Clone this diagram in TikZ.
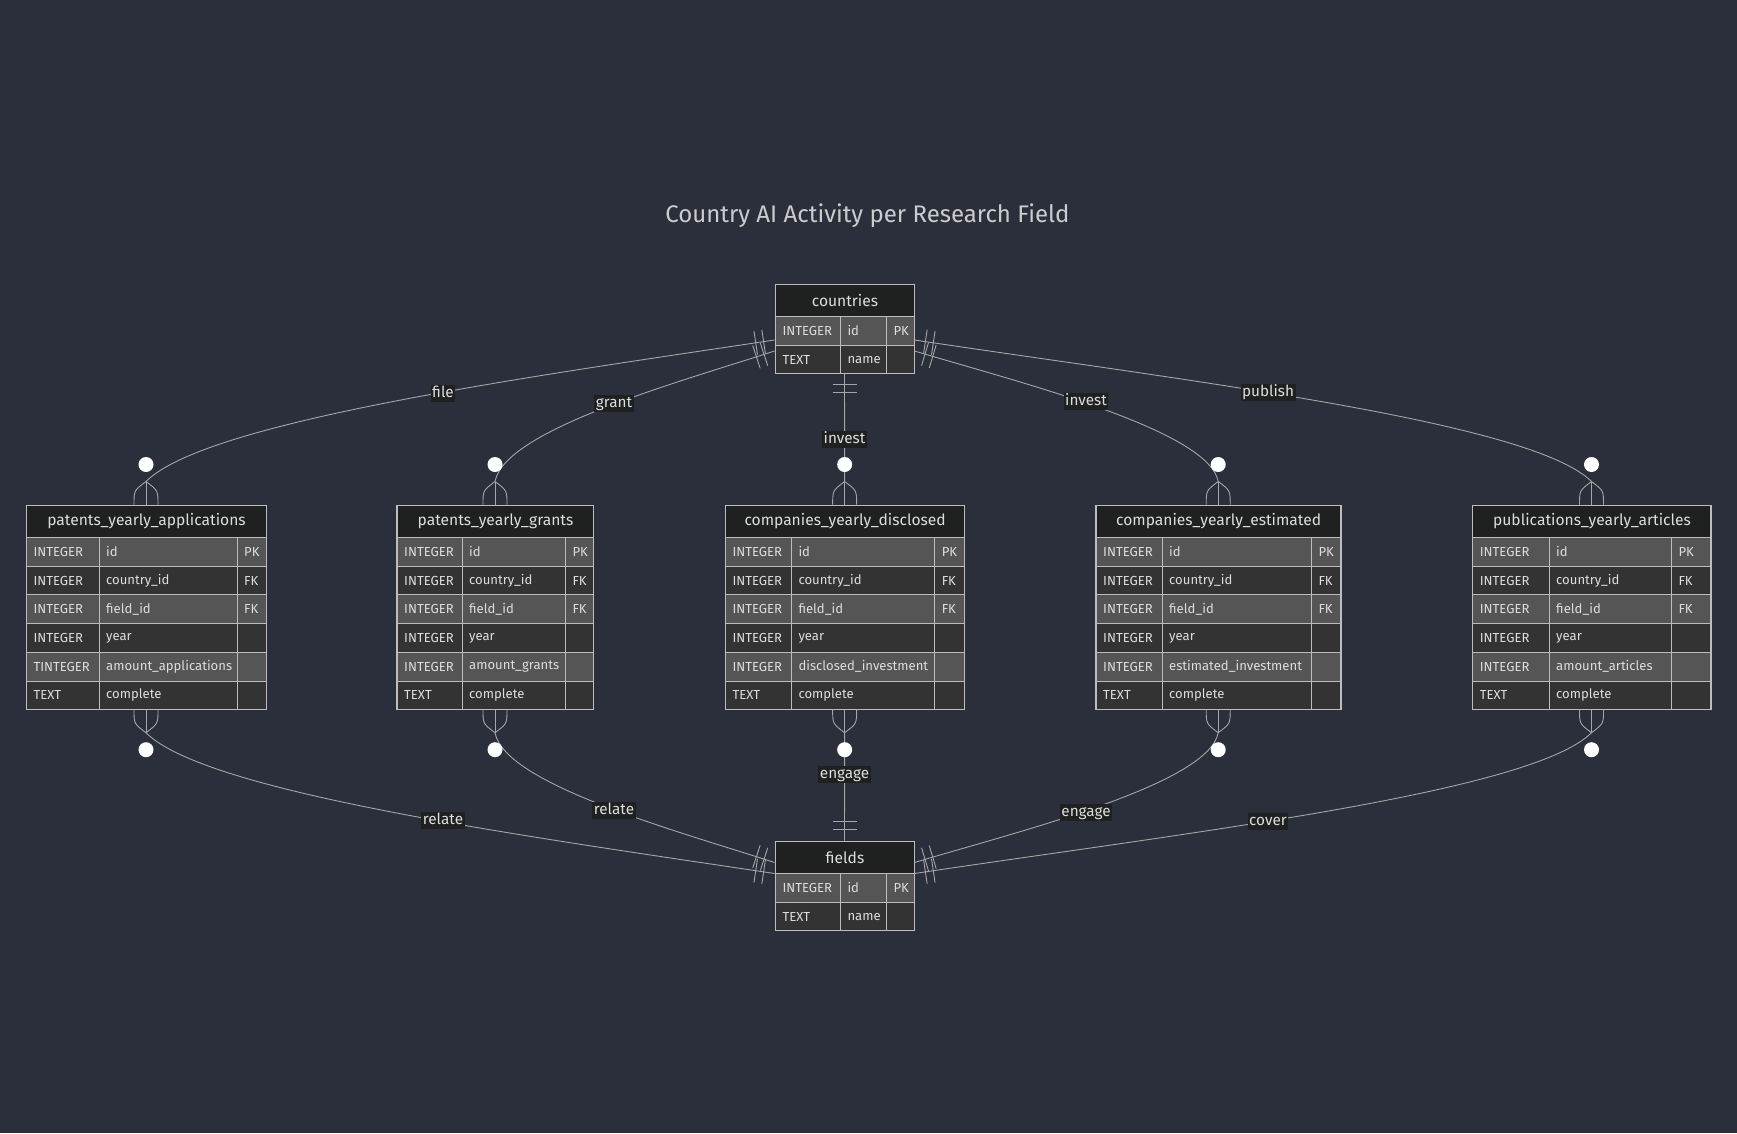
\documentclass[tikz,border=0pt]{standalone}
\usepackage{fontspec}
\setmainfont{Fira Sans}
\usetikzlibrary{calc}

\definecolor{bgdark}{HTML}{2A2F3B}
\definecolor{headfill}{HTML}{1F2020}
\definecolor{rowlight}{HTML}{555555}
\definecolor{rowdark}{HTML}{333333}
\definecolor{edgegrey}{HTML}{BDBDBD}
\definecolor{linegrey}{HTML}{A6A6A6}
\definecolor{fg}{HTML}{DDDDDD}
\definecolor{titlegrey}{HTML}{CCCCCC}
\def\attrfont{\fontsize{13.1}{16}\selectfont}
\def\headfont{\fontsize{15.6}{18}\selectfont}
\def\labelfont{\fontsize{15.3}{17}\selectfont}
\def\titlefont{\fontsize{24}{29}\selectfont}
\tikzstyle{head}=[draw=edgegrey,line width=1pt,fill=headfill,text=fg,font=\headfont,
                  anchor=north west,minimum height=32pt,inner sep=0pt]
\tikzstyle{cell}=[draw=edgegrey,line width=1pt,anchor=north west,minimum height=28.7pt,inner sep=0pt]
\tikzstyle{lrow}=[cell,fill=rowlight]
\tikzstyle{drow}=[cell,fill=rowdark]
\tikzstyle{txt}=[anchor=west,xshift=7.3pt,inner sep=0pt,text=fg,font=\attrfont]
\tikzstyle{entity}=[draw=edgegrey,line width=1pt,inner sep=0pt]
\tikzstyle{rel}=[draw=linegrey,line width=0.9pt]
\tikzstyle{rlabel}=[fill=headfill,text=fg,font=\labelfont,inner sep=1.5pt,text height=11pt,text depth=3pt]
\tikzstyle{heading}=[text=titlegrey,font=\titlefont]

% exactly one: two bars across the line near the end #1, line heading to #1+(#2)
\newcommand{\onlyone}[2]{%
  \coordinate (dirpt) at ($(#1)+(#2)$);
  \draw[rel] ($(#1)!11pt!(dirpt)!12pt!90:(#1)$) -- ($(#1)!11pt!(dirpt)!12pt!-90:(#1)$);
  \draw[rel] ($(#1)!19pt!(dirpt)!12pt!90:(#1)$) -- ($(#1)!19pt!(dirpt)!12pt!-90:(#1)$);}
% zero or more: crow's foot and ring at border point #1 (#2 = 1 above, -1 below)
\newcommand{\zeromany}[2]{%
  \draw[rel] (#1) -- ($(#1)+(0,-23*#2)$);
  \draw[rel] ($(#1)+(0,-23*#2)$) .. controls ($(#1)+(-12,-14*#2)$) .. ($(#1)+(-12,0)$);
  \draw[rel] ($(#1)+(0,-23*#2)$) .. controls ($(#1)+(12,-14*#2)$) .. ($(#1)+(12,0)$);
  \fill[white] ($(#1)+(0,-40*#2)$) circle (7.5pt);}

\begin{document}
\begin{tikzpicture}[x=1pt,y=-1pt]
  \fill[bgdark] (0,0) rectangle (1737,1133);
  \useasboundingbox (0,0) rectangle (1737,1133);

  \node[heading] (title) at (867.4,216) {Country AI Activity per Research Field};

  % countries
  \node[head,minimum width=139pt] (ctyh) at (775,284) {countries};
  \node[lrow,minimum width=65pt,label={[txt]west:INTEGER}] (ctyr1t) at (775,316) {};
  \node[lrow,minimum width=46pt,label={[txt]west:id}] (ctyr1n) at (840,316) {};
  \node[lrow,minimum width=28pt,label={[txt]west:PK}] (ctyr1k) at (886,316) {};
  \node[drow,minimum width=65pt,label={[txt]west:TEXT}] (ctyr2t) at (775,344.7) {};
  \node[drow,minimum width=46pt,label={[txt]west:name}] (ctyr2n) at (840,344.7) {};
  \node[drow,minimum width=28pt] (ctyr2k) at (886,344.7) {};
  \node[entity,minimum width=139pt,minimum height=89.4pt] (countries) at (844.5,328.7) {};

  % fields
  \node[head,minimum width=139pt] (fldh) at (775,841) {fields};
  \node[lrow,minimum width=65pt,label={[txt]west:INTEGER}] (fldr1t) at (775,873) {};
  \node[lrow,minimum width=46pt,label={[txt]west:id}] (fldr1n) at (840,873) {};
  \node[lrow,minimum width=28pt,label={[txt]west:PK}] (fldr1k) at (886,873) {};
  \node[drow,minimum width=65pt,label={[txt]west:TEXT}] (fldr2t) at (775,901.7) {};
  \node[drow,minimum width=46pt,label={[txt]west:name}] (fldr2n) at (840,901.7) {};
  \node[drow,minimum width=28pt] (fldr2k) at (886,901.7) {};
  \node[entity,minimum width=139pt,minimum height=89.4pt] (fields) at (844.5,885.7) {};

  % patents_yearly_applications
  \node[head,minimum width=240pt] (pyah) at (26,505) {patents\_yearly\_applications};
  \node[lrow,minimum width=72.7pt,label={[txt]west:INTEGER}] (pyar1t) at (26,537) {};
  \node[lrow,minimum width=138pt,label={[txt]west:id}] (pyar1n) at (98.7,537) {};
  \node[lrow,minimum width=29.3pt,label={[txt]west:PK}] (pyar1k) at (236.7,537) {};
  \node[drow,minimum width=72.7pt,label={[txt]west:INTEGER}] (pyar2t) at (26,565.7) {};
  \node[drow,minimum width=138pt,label={[txt]west:country\_id}] (pyar2n) at (98.7,565.7) {};
  \node[drow,minimum width=29.3pt,label={[txt]west:FK}] (pyar2k) at (236.7,565.7) {};
  \node[lrow,minimum width=72.7pt,label={[txt]west:INTEGER}] (pyar3t) at (26,594.4) {};
  \node[lrow,minimum width=138pt,label={[txt]west:field\_id}] (pyar3n) at (98.7,594.4) {};
  \node[lrow,minimum width=29.3pt,label={[txt]west:FK}] (pyar3k) at (236.7,594.4) {};
  \node[drow,minimum width=72.7pt,label={[txt]west:INTEGER}] (pyar4t) at (26,623.1) {};
  \node[drow,minimum width=138pt,label={[txt]west:year}] (pyar4n) at (98.7,623.1) {};
  \node[drow,minimum width=29.3pt] (pyar4k) at (236.7,623.1) {};
  \node[lrow,minimum width=72.7pt,label={[txt]west:TINTEGER}] (pyar5t) at (26,651.8) {};
  \node[lrow,minimum width=138pt,label={[txt]west:amount\_applications}] (pyar5n) at (98.7,651.8) {};
  \node[lrow,minimum width=29.3pt] (pyar5k) at (236.7,651.8) {};
  \node[drow,minimum width=72.7pt,label={[txt]west:TEXT}] (pyar6t) at (26,680.5) {};
  \node[drow,minimum width=138pt,label={[txt]west:complete}] (pyar6n) at (98.7,680.5) {};
  \node[drow,minimum width=29.3pt] (pyar6k) at (236.7,680.5) {};
  \node[entity,minimum width=240pt,minimum height=204.2pt] (pya) at (146,607.1) {};

  % patents_yearly_grants
  \node[head,minimum width=196.6pt] (pygh) at (396.7,505) {patents\_yearly\_grants};
  \node[lrow,minimum width=65pt,label={[txt]west:INTEGER}] (pygr1t) at (396.7,537) {};
  \node[lrow,minimum width=103.3pt,label={[txt]west:id}] (pygr1n) at (461.7,537) {};
  \node[lrow,minimum width=28.3pt,label={[txt]west:PK}] (pygr1k) at (565,537) {};
  \node[drow,minimum width=65pt,label={[txt]west:INTEGER}] (pygr2t) at (396.7,565.7) {};
  \node[drow,minimum width=103.3pt,label={[txt]west:country\_id}] (pygr2n) at (461.7,565.7) {};
  \node[drow,minimum width=28.3pt,label={[txt]west:FK}] (pygr2k) at (565,565.7) {};
  \node[lrow,minimum width=65pt,label={[txt]west:INTEGER}] (pygr3t) at (396.7,594.4) {};
  \node[lrow,minimum width=103.3pt,label={[txt]west:field\_id}] (pygr3n) at (461.7,594.4) {};
  \node[lrow,minimum width=28.3pt,label={[txt]west:FK}] (pygr3k) at (565,594.4) {};
  \node[drow,minimum width=65pt,label={[txt]west:INTEGER}] (pygr4t) at (396.7,623.1) {};
  \node[drow,minimum width=103.3pt,label={[txt]west:year}] (pygr4n) at (461.7,623.1) {};
  \node[drow,minimum width=28.3pt] (pygr4k) at (565,623.1) {};
  \node[lrow,minimum width=65pt,label={[txt]west:INTEGER}] (pygr5t) at (396.7,651.8) {};
  \node[lrow,minimum width=103.3pt,label={[txt]west:amount\_grants}] (pygr5n) at (461.7,651.8) {};
  \node[lrow,minimum width=28.3pt] (pygr5k) at (565,651.8) {};
  \node[drow,minimum width=65pt,label={[txt]west:TEXT}] (pygr6t) at (396.7,680.5) {};
  \node[drow,minimum width=103.3pt,label={[txt]west:complete}] (pygr6n) at (461.7,680.5) {};
  \node[drow,minimum width=28.3pt] (pygr6k) at (565,680.5) {};
  \node[entity,minimum width=196.6pt,minimum height=204.2pt] (pyg) at (495,607.1) {};

  % companies_yearly_disclosed
  \node[head,minimum width=239.3pt] (cydh) at (725,505) {companies\_yearly\_disclosed};
  \node[lrow,minimum width=66pt,label={[txt]west:INTEGER}] (cydr1t) at (725,537) {};
  \node[lrow,minimum width=143.3pt,label={[txt]west:id}] (cydr1n) at (791,537) {};
  \node[lrow,minimum width=30pt,label={[txt]west:PK}] (cydr1k) at (934.3,537) {};
  \node[drow,minimum width=66pt,label={[txt]west:INTEGER}] (cydr2t) at (725,565.7) {};
  \node[drow,minimum width=143.3pt,label={[txt]west:country\_id}] (cydr2n) at (791,565.7) {};
  \node[drow,minimum width=30pt,label={[txt]west:FK}] (cydr2k) at (934.3,565.7) {};
  \node[lrow,minimum width=66pt,label={[txt]west:INTEGER}] (cydr3t) at (725,594.4) {};
  \node[lrow,minimum width=143.3pt,label={[txt]west:field\_id}] (cydr3n) at (791,594.4) {};
  \node[lrow,minimum width=30pt,label={[txt]west:FK}] (cydr3k) at (934.3,594.4) {};
  \node[drow,minimum width=66pt,label={[txt]west:INTEGER}] (cydr4t) at (725,623.1) {};
  \node[drow,minimum width=143.3pt,label={[txt]west:year}] (cydr4n) at (791,623.1) {};
  \node[drow,minimum width=30pt] (cydr4k) at (934.3,623.1) {};
  \node[lrow,minimum width=66pt,label={[txt]west:INTEGER}] (cydr5t) at (725,651.8) {};
  \node[lrow,minimum width=143.3pt,label={[txt]west:disclosed\_investment}] (cydr5n) at (791,651.8) {};
  \node[lrow,minimum width=30pt] (cydr5k) at (934.3,651.8) {};
  \node[drow,minimum width=66pt,label={[txt]west:TEXT}] (cydr6t) at (725,680.5) {};
  \node[drow,minimum width=143.3pt,label={[txt]west:complete}] (cydr6n) at (791,680.5) {};
  \node[drow,minimum width=30pt] (cydr6k) at (934.3,680.5) {};
  \node[entity,minimum width=239.3pt,minimum height=204.2pt] (cyd) at (844.65,607.1) {};

  % companies_yearly_estimated
  \node[head,minimum width=245pt] (cyeh) at (1095.7,505) {companies\_yearly\_estimated};
  \node[lrow,minimum width=66pt,label={[txt]west:INTEGER}] (cyer1t) at (1095.7,537) {};
  \node[lrow,minimum width=149.3pt,label={[txt]west:id}] (cyer1n) at (1161.7,537) {};
  \node[lrow,minimum width=29.7pt,label={[txt]west:PK}] (cyer1k) at (1311,537) {};
  \node[drow,minimum width=66pt,label={[txt]west:INTEGER}] (cyer2t) at (1095.7,565.7) {};
  \node[drow,minimum width=149.3pt,label={[txt]west:country\_id}] (cyer2n) at (1161.7,565.7) {};
  \node[drow,minimum width=29.7pt,label={[txt]west:FK}] (cyer2k) at (1311,565.7) {};
  \node[lrow,minimum width=66pt,label={[txt]west:INTEGER}] (cyer3t) at (1095.7,594.4) {};
  \node[lrow,minimum width=149.3pt,label={[txt]west:field\_id}] (cyer3n) at (1161.7,594.4) {};
  \node[lrow,minimum width=29.7pt,label={[txt]west:FK}] (cyer3k) at (1311,594.4) {};
  \node[drow,minimum width=66pt,label={[txt]west:INTEGER}] (cyer4t) at (1095.7,623.1) {};
  \node[drow,minimum width=149.3pt,label={[txt]west:year}] (cyer4n) at (1161.7,623.1) {};
  \node[drow,minimum width=29.7pt] (cyer4k) at (1311,623.1) {};
  \node[lrow,minimum width=66pt,label={[txt]west:INTEGER}] (cyer5t) at (1095.7,651.8) {};
  \node[lrow,minimum width=149.3pt,label={[txt]west:estimated\_investment}] (cyer5n) at (1161.7,651.8) {};
  \node[lrow,minimum width=29.7pt] (cyer5k) at (1311,651.8) {};
  \node[drow,minimum width=66pt,label={[txt]west:TEXT}] (cyer6t) at (1095.7,680.5) {};
  \node[drow,minimum width=149.3pt,label={[txt]west:complete}] (cyer6n) at (1161.7,680.5) {};
  \node[drow,minimum width=29.7pt] (cyer6k) at (1311,680.5) {};
  \node[entity,minimum width=245pt,minimum height=204.2pt] (cye) at (1218.2,607.1) {};

  % publications_yearly_articles
  \node[head,minimum width=238.4pt] (pbah) at (1472.3,505) {publications\_yearly\_articles};
  \node[lrow,minimum width=76.4pt,label={[txt]west:INTEGER}] (pbar1t) at (1472.3,537) {};
  \node[lrow,minimum width=122.3pt,label={[txt]west:id}] (pbar1n) at (1548.7,537) {};
  \node[lrow,minimum width=39.7pt,label={[txt]west:PK}] (pbar1k) at (1671,537) {};
  \node[drow,minimum width=76.4pt,label={[txt]west:INTEGER}] (pbar2t) at (1472.3,565.7) {};
  \node[drow,minimum width=122.3pt,label={[txt]west:country\_id}] (pbar2n) at (1548.7,565.7) {};
  \node[drow,minimum width=39.7pt,label={[txt]west:FK}] (pbar2k) at (1671,565.7) {};
  \node[lrow,minimum width=76.4pt,label={[txt]west:INTEGER}] (pbar3t) at (1472.3,594.4) {};
  \node[lrow,minimum width=122.3pt,label={[txt]west:field\_id}] (pbar3n) at (1548.7,594.4) {};
  \node[lrow,minimum width=39.7pt,label={[txt]west:FK}] (pbar3k) at (1671,594.4) {};
  \node[drow,minimum width=76.4pt,label={[txt]west:INTEGER}] (pbar4t) at (1472.3,623.1) {};
  \node[drow,minimum width=122.3pt,label={[txt]west:year}] (pbar4n) at (1548.7,623.1) {};
  \node[drow,minimum width=39.7pt] (pbar4k) at (1671,623.1) {};
  \node[lrow,minimum width=76.4pt,label={[txt]west:INTEGER}] (pbar5t) at (1472.3,651.8) {};
  \node[lrow,minimum width=122.3pt,label={[txt]west:amount\_articles}] (pbar5n) at (1548.7,651.8) {};
  \node[lrow,minimum width=39.7pt] (pbar5k) at (1671,651.8) {};
  \node[drow,minimum width=76.4pt,label={[txt]west:TEXT}] (pbar6t) at (1472.3,680.5) {};
  \node[drow,minimum width=122.3pt,label={[txt]west:complete}] (pbar6n) at (1548.7,680.5) {};
  \node[drow,minimum width=39.7pt] (pbar6k) at (1671,680.5) {};
  \node[entity,minimum width=238.4pt,minimum height=204.2pt] (pba) at (1591.5,607.1) {};

  % relations from countries
  \coordinate (cfile) at ([yshift=-11.3pt]countries.west);
  \coordinate (cgrant) at ([yshift=-22.3pt]countries.west);
  \coordinate (cinvest) at ([yshift=-22.3pt]countries.east);
  \coordinate (cpublish) at ([yshift=-11.3pt]countries.east);
  \draw[rel] (cfile) .. controls +(-250,37.5) and +(60,-60) .. ([yshift=23pt]pya.north);
  \draw[rel] (cgrant) .. controls +(-95,31) and +(10,-52) .. ([yshift=23pt]pyg.north);
  \draw[rel] (countries.south) -- ([yshift=23pt]cyd.north);
  \draw[rel] (cinvest) .. controls +(103,31) and +(-10,-52) .. ([yshift=23pt]cye.north);
  \draw[rel] (cpublish) .. controls +(271,40.6) and +(-60,-60) .. ([yshift=23pt]pba.north);
  \onlyone{cfile}{-250,37.5}
  \onlyone{cgrant}{-95,31}
  \onlyone{countries.south}{0,100}
  \onlyone{cinvest}{103,31}
  \onlyone{cpublish}{271,40.6}

  % relations from fields
  \coordinate (frelout) at ([yshift=12.2pt]fields.west);
  \coordinate (frelin) at ([yshift=23.2pt]fields.west);
  \coordinate (fengage) at ([yshift=23.2pt]fields.east);
  \coordinate (fcover) at ([yshift=12.2pt]fields.east);
  \draw[rel] (frelout) .. controls +(-250,-37.5) and +(60,60) .. ([yshift=-23pt]pya.south);
  \draw[rel] (frelin) .. controls +(-95,-31) and +(10,52) .. ([yshift=-23pt]pyg.south);
  \draw[rel] (fields.north) -- ([yshift=-23pt]cyd.south);
  \draw[rel] (fengage) .. controls +(103,-31) and +(-10,52) .. ([yshift=-23pt]cye.south);
  \draw[rel] (fcover) .. controls +(271,-40.6) and +(-60,60) .. ([yshift=-23pt]pba.south);
  \onlyone{frelout}{-250,-37.5}
  \onlyone{frelin}{-95,-31}
  \onlyone{fields.north}{0,-100}
  \onlyone{fengage}{103,-31}
  \onlyone{fcover}{271,-40.6}

  % crow's feet on the yearly tables
  \zeromany{pya.north}{1}
  \zeromany{pyg.north}{1}
  \zeromany{cyd.north}{1}
  \zeromany{cye.north}{1}
  \zeromany{pba.north}{1}
  \zeromany{pya.south}{-1}
  \zeromany{pyg.south}{-1}
  \zeromany{cyd.south}{-1}
  \zeromany{cye.south}{-1}
  \zeromany{pba.south}{-1}

  % relation labels
  \node[rlabel] (lfile) at (443,393) {file};
  \node[rlabel] (lgrant) at (614,403) {grant};
  \node[rlabel] (linvest) at (844.5,439) {invest};
  \node[rlabel] (linvest2) at (1086,401) {invest};
  \node[rlabel] (lpublish) at (1268,392) {publish};
  \node[rlabel] (lrelate) at (443,820) {relate};
  \node[rlabel] (lrelate2) at (614,810) {relate};
  \node[rlabel] (lengage) at (844.5,774) {engage};
  \node[rlabel] (lengage2) at (1086,812) {engage};
  \node[rlabel] (lcover) at (1268,821) {cover};
\end{tikzpicture}
\end{document}
